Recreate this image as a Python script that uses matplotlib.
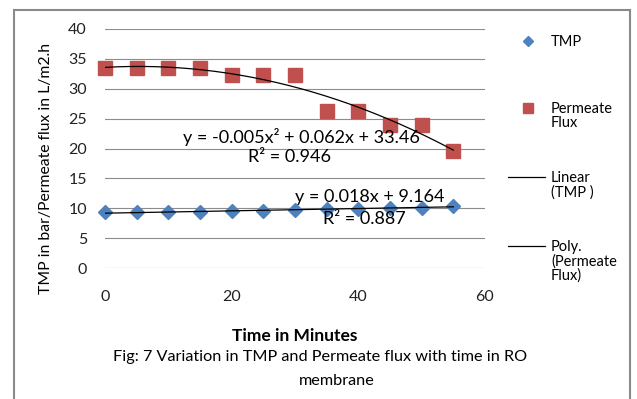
import numpy as np
import matplotlib
matplotlib.use("Agg")
import matplotlib.pyplot as plt
from matplotlib.patches import Rectangle
from matplotlib.lines import Line2D

plt.rcParams['font.family'] = ['Lato', 'DejaVu Sans']

# data
time_min = [0, 5, 10, 15, 20, 25, 30, 35, 40, 45, 50, 55]
tmp_bar = [9.3, 9.3, 9.3, 9.4, 9.6, 9.6, 9.7, 9.9, 9.9, 10.0, 10.1, 10.4]
permeate_flux = [33.5, 33.5, 33.5, 33.5, 32.3, 32.3, 32.3, 26.3, 26.3, 24.0, 24.0, 19.5]

lin_label = "y = 0.018x + 9.164"
lin_r2 = "R² = 0.887"
poly_label = "y = -0.005x² + 0.062x + 33.46"
poly_r2 = "R² = 0.946"

legend_labels = ['TMP', 'Permeate\nFlux', 'Linear\n(TMP )', 'Poly.\n(Permeate\nFlux)']

x = np.array(time_min, dtype=float)
lin_coef = np.polyfit(x, tmp_bar, 1)
poly_coef = np.polyfit(x, permeate_flux, 2)
xs = np.linspace(0, 55, 200)

fig = plt.figure(figsize=(6.37, 3.99), dpi=100)
ax = fig.add_axes([105 / 637, 131 / 399, 380 / 637, 239 / 399])

ax.plot(x, tmp_bar, linestyle='none', marker='D', markersize=7,
        color='#4F81BD', zorder=3, clip_on=False)
ax.plot(x, permeate_flux, linestyle='none', marker='s', markersize=10,
        color='#C0504D', zorder=3, clip_on=False)
ax.plot(xs, np.polyval(lin_coef, xs), color='black', lw=0.9, zorder=4)
ax.plot(xs, np.polyval(poly_coef, xs), color='black', lw=0.9, zorder=4)

ax.set_xlim(0, 60)
ax.set_ylim(0, 40)
ax.set_xticks([0, 20, 40, 60])
ax.set_yticks(range(0, 45, 5))
ax.yaxis.grid(True, color='#8c8c8c', lw=0.8)
ax.set_axisbelow(True)
for s in ax.spines.values():
    s.set_visible(False)
ax.tick_params(length=0, labelsize=11.5, colors='#222222')
ax.tick_params(axis='x', pad=16)
ax.tick_params(axis='y', pad=13)

ax.text(31.0, 21.9, poly_label, ha='center', va='center', fontsize=13)
ax.text(29.2, 18.6, poly_r2, ha='center', va='center', fontsize=13)
ax.text(41.8, 11.9, lin_label, ha='center', va='center', fontsize=13)
ax.text(41.0, 8.2, lin_r2, ha='center', va='center', fontsize=13)

ax.set_ylabel('TMP in bar/Permeate flux in L/m2.h', fontsize=11.3)
ax.yaxis.set_label_coords(-0.137, 0.418)
ax.set_xlabel('Time in Minutes', fontsize=12.5, fontweight='bold', labelpad=17)

# legend drawn by hand so the key sits on the first text line, as in Excel
def fy(py):
    return 1 - py / 399

legend_rows = [41, 108, 177, 246]
handles = [
    dict(marker='D', markersize=5.5, color='#4F81BD', linestyle='none'),
    dict(marker='s', markersize=7.5, color='#C0504D', linestyle='none'),
    dict(color='black', lw=0.9),
    dict(color='black', lw=0.9),
]
for label, row, style in zip(legend_labels, legend_rows, handles):
    if style.get('linestyle') == 'none':
        fig.add_artist(Line2D([528 / 637], [fy(row)], transform=fig.transFigure, **style))
    else:
        fig.add_artist(Line2D([508 / 637, 545 / 637], [fy(row), fy(row)],
                              transform=fig.transFigure, **style))
    fig.text(551 / 637, fy(row - 6), label, ha='left', va='top',
             fontsize=10.5, linespacing=1.0)

fig.text(320 / 637, fy(357),
         'Fig: 7 Variation in TMP and Permeate flux with time in RO',
         ha='center', va='center', fontsize=11.7)
fig.text(337 / 637, fy(381), 'membrane', ha='center', va='center',
         fontsize=11.7)

fig.patches.append(Rectangle((14 / 637, -0.1), 616 / 637, 1 - 10 / 399 + 0.1,
                             transform=fig.transFigure, fill=False,
                             edgecolor='#8a8a8a', lw=1.5))

fig.savefig('out.png', dpi=100)
